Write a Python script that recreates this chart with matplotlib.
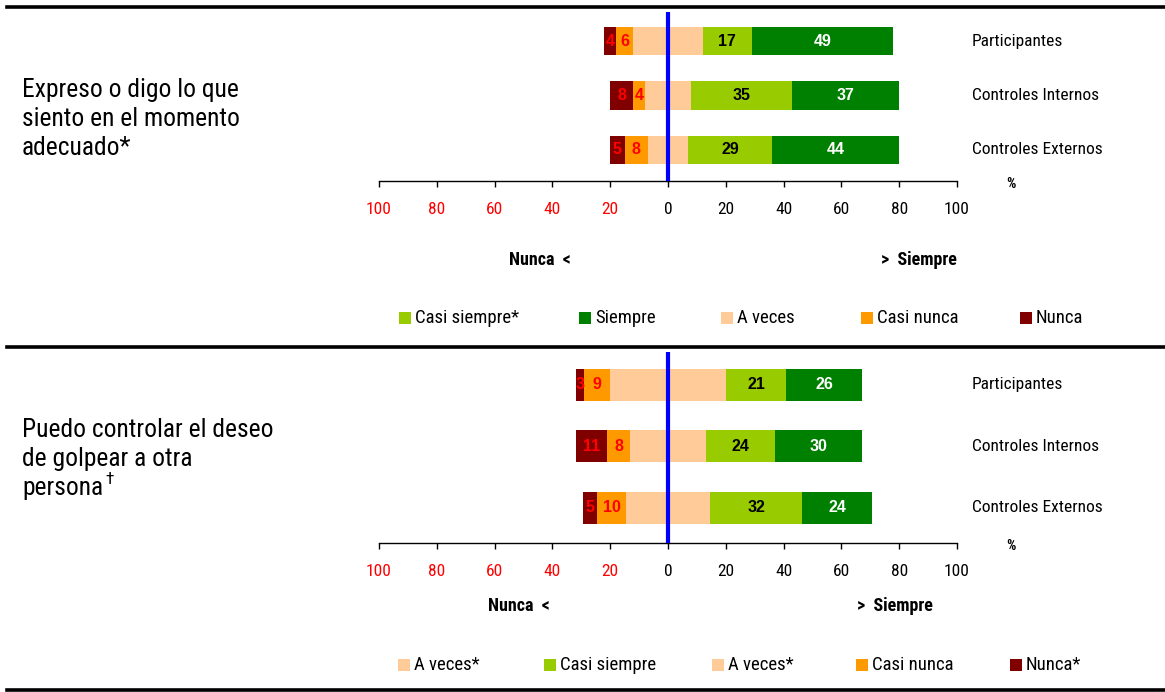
import os
import matplotlib
matplotlib.use('Agg')
import matplotlib.pyplot as plt
from matplotlib import font_manager
from matplotlib.font_manager import FontProperties
from matplotlib.patches import Rectangle
from matplotlib.lines import Line2D

# ---------------- data ----------------
groups = ['Participantes', 'Controles Internos', 'Controles Externos']

q1_nunca = [4, 8, 5]
q1_casi_nunca = [6, 4, 8]
q1_a_veces = [24, 16, 14]
q1_casi_siempre = [17, 35, 29]
q1_siempre = [49, 37, 44]

q2_nunca = [3, 11, 5]
q2_casi_nunca = [9, 8, 10]
q2_a_veces = [40, 26, 29]
q2_casi_siempre = [21, 24, 32]
q2_siempre = [26, 30, 24]

tick_values = [-100, -80, -60, -40, -20, 0, 20, 40, 60, 80, 100]
tick_labels = ['100', '80', '60', '40', '20', '0', '20', '40', '60', '80', '100']

q1_title = ['Expreso o digo lo que', 'siento en el momento', 'adecuado*']
q2_title = ['Puedo controlar el deseo', 'de golpear a otra', 'persona']

leg1_labels = ['Casi siempre*', 'Siempre', 'A veces', 'Casi nunca', 'Nunca']
leg2_labels = ['A veces*', 'Casi siempre', 'A veces*', 'Casi nunca', 'Nunca*']

# ---------------- style ----------------
C_N = '#800000'
C_CN = '#FF9900'
C_AV = '#FFCC99'
C_CS = '#99CC00'
C_S = '#008000'
leg1_colors = [C_CS, C_S, C_AV, C_CN, C_N]
leg2_colors = [C_AV, C_CS, C_AV, C_CN, C_N]


def find_narrow(bold):
    prefs = ['liberationsansnarrow', 'arialnarrow', 'robotocondensed', 'roboto_condensed',
             'opensanscondensed', 'opensans_condensed', 'notosanscondensed',
             'dejavusanscondensed', 'narrow', 'condensed']
    cands = []
    for f in font_manager.fontManager.ttflist:
        fn = os.path.basename(f.fname).lower().replace('-', '').replace(' ', '')
        if 'italic' in fn or 'oblique' in fn or 'mono' in fn or 'serif' in fn and 'sans' not in fn:
            continue
        isbold = 'bold' in fn and 'semibold' not in fn and 'extrabold' not in fn
        if bold != isbold:
            continue
        if not bold and any(w in fn for w in ['light', 'thin', 'medium', 'black', 'semi', 'extra']):
            continue
        for rank, p in enumerate(prefs):
            if p in fn:
                cands.append((rank, f.fname))
                break
    if cands:
        cands.sort()
        return cands[0][1]
    return None


nreg = find_narrow(False)
nbold = find_narrow(True)
HAVE_NARROW = nreg is not None
scale = 1.0 if HAVE_NARROW else 0.9


def NP(size, bold=False):
    s = size * scale
    if bold:
        if nbold:
            return FontProperties(fname=nbold, size=s)
        if nreg:
            return FontProperties(fname=nreg, size=s, weight='bold')
        return FontProperties(family='Liberation Sans', weight='bold', size=s)
    if nreg:
        return FontProperties(fname=nreg, size=s)
    return FontProperties(family='Liberation Sans', size=s)


REG = 'Liberation Sans'

W, H = 1165, 692
fig = plt.figure(figsize=(W / 100, H / 100), dpi=100)


def fx(px):
    return px / W


def fy(py):
    return 1 - py / H


# separator lines
for yy in [7, 347, 690]:
    fig.add_artist(Line2D([fx(7), 1.0], [fy(yy), fy(yy)], color='black', lw=2.6,
                          transform=fig.transFigure))

AX_L, AX_R = 379, 957


def panel(top_px, axis_px, nunca, cn, av, cs, s, title, leg_labels, leg_colors,
          leg_x, leg_y, nunca_lbl_x, siempre_lbl_x, lbl_y, title_y, dagger=False):
    ax = fig.add_axes([fx(AX_L), fy(axis_px), fx(AX_R) - fx(AX_L), (axis_px - top_px) / H])
    ypos = list(range(len(groups)))
    left_n = [-(a / 2) - c - n for n, c, a in zip(nunca, cn, av)]
    left_cn = [-(a / 2) - c for c, a in zip(cn, av)]
    left_av = [-(a / 2) for a in av]
    left_cs = [a / 2 for a in av]
    left_s = [a / 2 + c for a, c in zip(av, cs)]
    h = 0.52
    ax.barh(ypos, nunca, left=left_n, height=h, color=C_N, lw=0)
    ax.barh(ypos, cn, left=left_cn, height=h, color=C_CN, lw=0)
    ax.barh(ypos, av, left=left_av, height=h, color=C_AV, lw=0)
    ax.barh(ypos, cs, left=left_cs, height=h, color=C_CS, lw=0)
    ax.barh(ypos, s, left=left_s, height=h, color=C_S, lw=0)
    fk = dict(fontsize=11.5, fontweight='bold', family=REG, ha='center', va='center')
    gx = (972 - AX_L) / (AX_R - AX_L)
    for i in ypos:
        ax.text(left_n[i] + nunca[i] / 2, i, str(nunca[i]), color='#FF0000', **fk)
        ax.text(left_cn[i] + cn[i] / 2, i, str(cn[i]), color='#FF0000', **fk)
        ax.text(left_cs[i] + cs[i] / 2, i, str(cs[i]), color='black', **fk)
        ax.text(left_s[i] + s[i] / 2, i, str(s[i]), color='white', **fk)
        ax.text(gx, i, groups[i], transform=ax.get_yaxis_transform(), ha='left',
                va='center', fontproperties=NP(12.5))
    ax.axvline(0, color='#0000FF', lw=3, zorder=5)
    ax.set_xlim(-100, 100)
    ax.set_ylim(2.57, -0.535)
    for sp in ['top', 'right', 'left']:
        ax.spines[sp].set_visible(False)
    ax.spines['bottom'].set_linewidth(1.0)
    ax.set_yticks([])
    ax.set_xticks(tick_values)
    ax.set_xticklabels(tick_labels)
    for lab, v in zip(ax.get_xticklabels(), tick_values):
        lab.set_fontproperties(NP(12.5))
        lab.set_color('#FF0000' if v < 0 else 'black')
    ax.tick_params(axis='x', direction='out', length=4, width=1, pad=11)
    ax.set_facecolor('none')
    # Nunca / Siempre
    fig.text(fx(nunca_lbl_x), fy(lbl_y), 'Nunca  <', ha='right', va='center',
             fontproperties=NP(13, True))
    fig.text(fx(siempre_lbl_x), fy(lbl_y), '>  Siempre', ha='right', va='center',
             fontproperties=NP(13, True))
    fig.text(fx(1011), fy(axis_px + 3), '%', ha='center', va='center',
             fontproperties=NP(10.5, True))
    # legend
    for x0, lab, col in zip(leg_x, leg_labels, leg_colors):
        fig.add_artist(Rectangle((fx(x0), fy(leg_y + 6)), 12 / W, 12 / H, color=col,
                                 transform=fig.transFigure, lw=0))
        fig.text(fx(x0 + 16), fy(leg_y), lab, ha='left', va='center',
                 fontproperties=NP(13.5))
    # title
    last = None
    for k, line in enumerate(title):
        last = fig.text(fx(22), fy(title_y + 29 * k), line, ha='left', va='baseline',
                        fontproperties=NP(18.4))
    if dagger:
        fig.canvas.draw()
        bb = last.get_window_extent()
        fig.text(bb.x1 / W + 2 / W, fy(title_y + 58 - 11), '\u2020', ha='left',
                 va='baseline', fontproperties=NP(12.5))
    return ax


panel(12, 181, q1_nunca, q1_casi_nunca, q1_a_veces, q1_casi_siempre, q1_siempre,
      q1_title, leg1_labels, leg1_colors, [399, 579, 721, 861, 1020], 318,
      571, 957, 260, 97)
panel(352, 543, q2_nunca, q2_casi_nunca, q2_a_veces, q2_casi_siempre, q2_siempre,
      q2_title, leg2_labels, leg2_colors, [398, 544, 712, 856, 1010], 665,
      550, 933, 606, 437, dagger=True)

fig.savefig('out.png', dpi=100)
